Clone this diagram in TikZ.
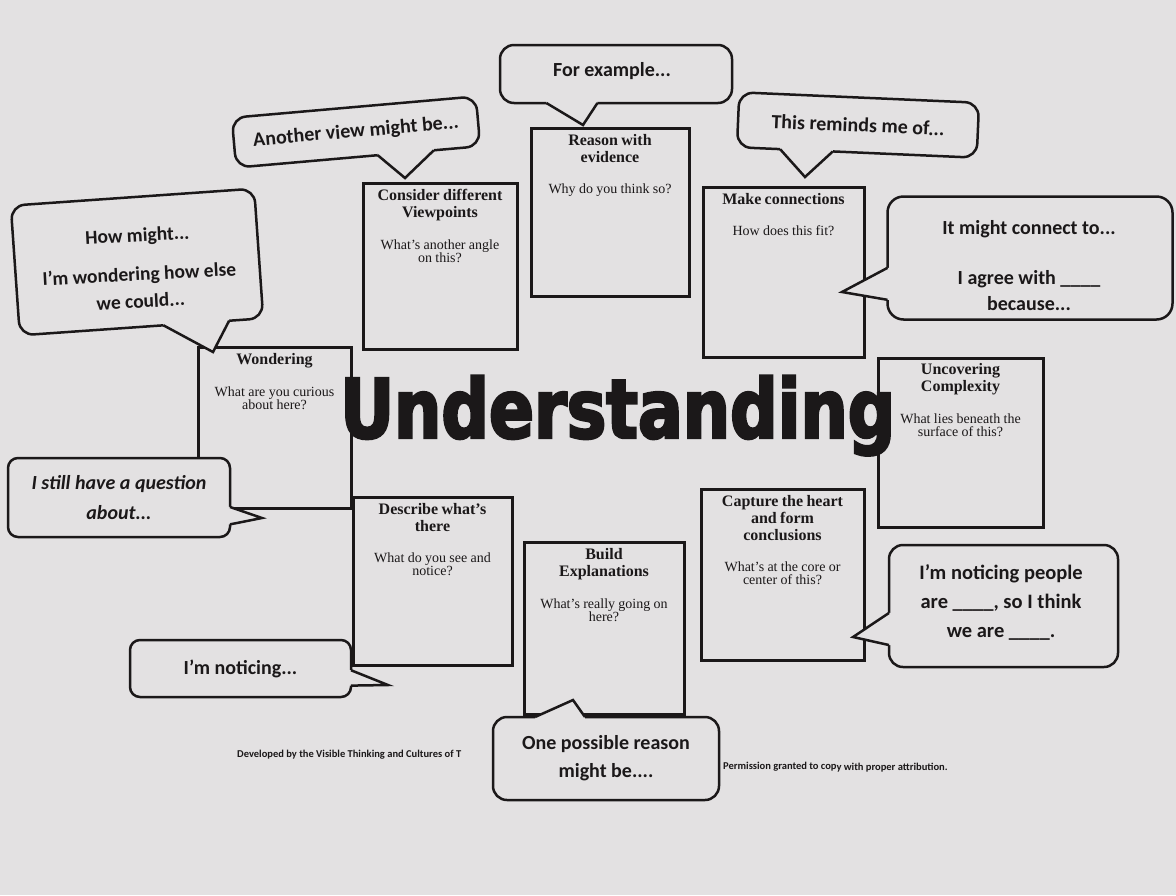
\documentclass[tikz,border=0pt]{standalone}
\usepackage{fontspec}
\setmainfont{Liberation Serif}
\newfontfamily\cfont{Carlito}
\newfontfamily\bigfont{DejaVu Sans}[FakeStretch=0.81,BoldFeatures={FakeBold=3}]
\usetikzlibrary{calc}
\definecolor{paper}{HTML}{E3E1E2}
\definecolor{ink}{HTML}{1B1819}
\tikzset{
  boxst/.style={draw=ink, line width=3pt, inner sep=0pt, outer sep=0pt},
  btxt/.style={anchor=north, inner sep=0pt, align=center, text=ink},
  bubble/.style={draw=ink, fill=paper, line width=2.5pt, rounded corners=14pt,
    inner sep=0pt, outer sep=0pt, align=center, text=ink,
    font=\cfont\bfseries\fontsize{20}{28}\selectfont},
  ctext/.style={inner sep=0pt, align=center, text=ink,
    font=\cfont\bfseries\fontsize{20}{28}\selectfont},
  bline/.style={draw=ink, line width=2.5pt, line join=miter},
  foot/.style={inner sep=0pt, text=ink, font=\cfont\bfseries\fontsize{10.5}{12}\selectfont},
  bigword/.style={inner sep=0pt, text=ink, font=\bigfont\bfseries\fontsize{82}{82}\selectfont},
}
\newcommand\bt[2]{{\fontsize{16}{17}\selectfont\bfseries #1\par}\vspace{18pt}{\fontsize{14}{13}\selectfont #2\par}}
\newcommand\tailgen[7]{%
  \coordinate (tA) at ($(#1)!#5!(#2)$);
  \coordinate (tB) at ($(#1)!#6!(#2)$);
  \coordinate (tAo) at ($(#3)!#5!(#4)$);
  \coordinate (tBo) at ($(#3)!#6!(#4)$);
  \fill[paper] ($(tA)!3pt!(tAo)$) -- (tA) -- (#7) -- (tB) -- ($(tB)!3pt!(tBo)$) -- cycle;
  \draw[bline] (tA) -- (#7) -- (tB);
}
\newcommand\tailB[4]{\tailgen{#1.south west}{#1.south east}{#1.north west}{#1.north east}{#2}{#3}{#4}}
\newcommand\tailT[4]{\tailgen{#1.north west}{#1.north east}{#1.south west}{#1.south east}{#2}{#3}{#4}}
\newcommand\tailL[4]{\tailgen{#1.north west}{#1.south west}{#1.north east}{#1.south east}{#2}{#3}{#4}}
\newcommand\tailR[4]{\tailgen{#1.north east}{#1.south east}{#1.north west}{#1.south west}{#2}{#3}{#4}}
\begin{document}
\begin{tikzpicture}[x=1pt,y=-1pt]
\useasboundingbox (0,0) rectangle (1176,895);
\fill[paper] (0,0) rectangle (1176,895);

% footer (partly hidden by a bubble)
\node[foot, anchor=base west] (dev) at (237,757) {Developed by the Visible Thinking and Cultures of T};
\node[foot, anchor=base west, rotate=-0.5] (perm) at (723,769) {Permission granted to copy with proper attribution.};

% thinking-move boxes
\node[boxst, minimum width=153pt, minimum height=161pt] (wond) at (274.5,427.5) {};
\node[boxst, minimum width=154pt, minimum height=166pt] (cons) at (440,266) {};
\node[boxst, minimum width=158pt, minimum height=168pt] (reas) at (610,212) {};
\node[boxst, minimum width=161pt, minimum height=170pt] (make) at (783.5,272) {};
\node[boxst, minimum width=165pt, minimum height=169pt] (unco) at (960.5,442.5) {};
\node[boxst, minimum width=163pt, minimum height=171pt] (capt) at (782.5,574.5) {};
\node[boxst, minimum width=159pt, minimum height=168pt] (desc) at (432.5,581) {};
\node[boxst, minimum width=160pt, minimum height=172pt] (build) at (604,628) {};

\node[btxt, text width=148pt] (wondT) at ($(wond.north)+(0,6)$) {\bt{Wondering}{What are you curious\\about here?}};
\node[btxt, text width=150pt] (consT) at ($(cons.north)+(0,6)$) {\bt{Consider different\\Viewpoints}{What’s another angle\\on this?}};
\node[btxt, text width=154pt] (reasT) at ($(reas.north)+(0,6)$) {\bt{Reason with\\evidence}{Why do you think so?}};
\node[btxt, text width=157pt] (makeT) at ($(make.north)+(0,6)$) {\bt{Make connections}{How does this fit?}};
\node[btxt, text width=161pt] (uncoT) at ($(unco.north)+(0,5)$) {\bt{Uncovering\\Complexity}{What lies beneath the\\surface of this?}};
\node[btxt, text width=159pt] (captT) at ($(capt.north)+(0,6)$) {\bt{Capture the heart\\and form\\conclusions}{What’s at the core or\\center of this?}};
\node[btxt, text width=155pt] (descT) at ($(desc.north)+(0,6)$) {\bt{Describe what’s\\there}{What do you see and\\notice?}};
\node[btxt, text width=156pt] (buildT) at ($(build.north)+(0,6)$) {\bt{Build\\Explanations}{What’s really going on\\here?}};

% central word
\node[bigword, anchor=base west] (und) at (340,438) {Understanding};

% speech bubbles
\node[bubble, minimum width=244pt, minimum height=130pt, rotate=4] (howm) at (137,262) {};
\node[ctext, rotate=3, font=\cfont\bfseries\fontsize{19.5}{27}\selectfont] (howmT) at (139,268)
  {How might...\\[12pt]I’m wondering how else\\we could...};
\coordinate (howmTip) at (213,352);
\tailB{howm}{0.59}{0.86}{howmTip}

\node[bubble, minimum width=245pt, minimum height=50pt, rotate=5] (anot) at (356,132) {Another view might be...};
\coordinate (anotTip) at (405,178);
\tailB{anot}{0.58}{0.81}{anotTip}

\node[bubble, minimum width=232pt, minimum height=58pt] (forx) at (616,74) {};
\node[ctext] (forxT) at (612,71) {For example...};
\coordinate (forxTip) at (583,125);
\tailB{forx}{0.20}{0.42}{forxTip}

\node[bubble, minimum width=240pt, minimum height=55pt, rotate=-2.5] (remi) at (858,125) {This reminds me of...};
\coordinate (remiTip) at (805,177);
\tailB{remi}{0.18}{0.40}{remiTip}

\node[bubble, minimum width=285pt, minimum height=123pt, rounded corners=16pt] (conn) at (1030,258) {};
\node[ctext, font=\cfont\bfseries\fontsize{20}{26}\selectfont] (connT) at (1029,266)
  {It might connect to...\\[24pt]I agree with \_\_\_\_\\because...};
\coordinate (connTip) at (842,292);
\tailL{conn}{0.58}{0.84}{connTip}

\node[bubble, minimum width=222pt, minimum height=79pt, rounded corners=10pt,
  font=\cfont\bfseries\itshape\fontsize{20}{30}\selectfont] (stil) at (119,497.5)
  {I still have a question\\about...};
\coordinate (stilTip) at (262,518);
\tailR{stil}{0.62}{0.84}{stilTip}

\node[bubble, minimum width=221pt, minimum height=57pt, rounded corners=10pt] (noti) at (240.5,668.5) {I’m noticing...};
\coordinate (notiTip) at (388,685);
\tailR{noti}{0.53}{0.80}{notiTip}

\node[bubble, minimum width=226pt, minimum height=83pt] (poss) at (606,758.5)
  {One possible reason\\might be....};
\coordinate (possTip) at (573,700);
\tailT{poss}{0.186}{0.407}{possTip}

\node[bubble, minimum width=229pt, minimum height=122pt] (peop) at (1003.5,606) {};
\node[ctext, font=\cfont\bfseries\fontsize{20.5}{29}\selectfont] (peopT) at (1001,602)
  {I’m noticing people\\are \_\_\_\_, so I think\\we are \_\_\_\_.};
\coordinate (peopTip) at (853,637);
\tailL{peop}{0.557}{0.82}{peopTip}
\end{tikzpicture}
\end{document}
